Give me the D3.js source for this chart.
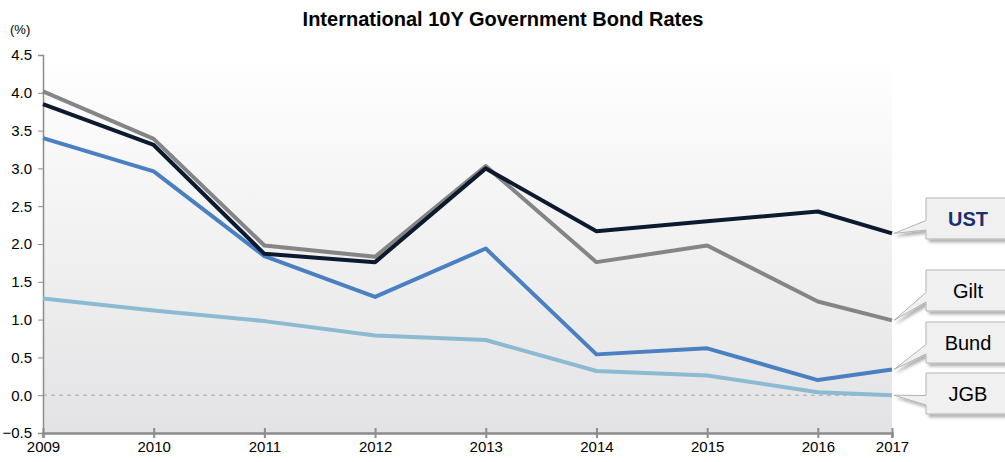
<!DOCTYPE html>
<html>
<head>
<meta charset="utf-8">
<script src="https://cdn.jsdelivr.net/npm/d3@7"></script>
<style>
  body { margin: 0; background: #fff; font-family: "Liberation Sans", Arial, sans-serif; }
  .tick text { font-size: 15px; fill: #000; }
</style>
</head>
<body>
<div id="chart"></div>
<script>
// x positions (last point is mid-2017) and their labels
const years = [2009, 2010, 2011, 2012, 2013, 2014, 2015, 2016, 2016.67];
const yearLabels = ["2009", "2010", "2011", "2012", "2013", "2014", "2015", "2016", "2017"];
const yTicks = [-0.5, 0, 0.5, 1, 1.5, 2, 2.5, 3, 3.5, 4, 4.5];

const ust  = [3.85, 3.31, 1.87, 1.76, 3.00, 2.17, 2.30, 2.43, 2.14];
const gilt = [4.02, 3.39, 1.98, 1.83, 3.03, 1.76, 1.98, 1.24, 0.99];
const bund = [3.40, 2.96, 1.84, 1.30, 1.94, 0.54, 0.62, 0.20, 0.34];
const jgb  = [1.28, 1.12, 0.98, 0.79, 0.73, 0.32, 0.26, 0.04, 0.00];

const seriesNames = ["JGB", "Bund", "Gilt", "UST"];
const seriesData = [jgb, bund, gilt, ust];
const colors = ["#8cbad3", "#4a80c2", "#858585", "#0b1a2e"];

const W = 1005, H = 462;
const margin = {top: 55, right: 113, bottom: 29, left: 43};
const width = W - margin.left - margin.right,
      height = H - margin.top - margin.bottom;

const svg = d3.select("#chart").append("svg")
    .attr("width", W)
    .attr("height", H);

const defs = svg.append("defs");
const grad = defs.append("linearGradient")
    .attr("id", "bg").attr("x1", 0).attr("y1", 0).attr("x2", 0).attr("y2", 1);
grad.append("stop").attr("offset", "0%").attr("stop-color", "#ffffff");
grad.append("stop").attr("offset", "100%").attr("stop-color", "#e3e3e5");

const shadow = defs.append("filter").attr("id", "shadow")
    .attr("x", "-20%").attr("y", "-20%").attr("width", "150%").attr("height", "160%");
shadow.append("feDropShadow")
    .attr("dx", 3).attr("dy", 3).attr("stdDeviation", 1.5)
    .attr("flood-color", "#000").attr("flood-opacity", 0.3);

// title
svg.append("text")
    .attr("x", 503).attr("y", 26)
    .attr("text-anchor", "middle")
    .style("font-size", "20px").style("font-weight", "bold")
    .text("International 10Y Government Bond Rates");

svg.append("text")
    .attr("x", 10).attr("y", 34)
    .style("font-size", "13px")
    .text("(%)");

const g = svg.append("g")
    .attr("transform", "translate(" + margin.left + "," + margin.top + ")");

const x = d3.scaleLinear().domain([2009, 2016.67]).range([0, width]);
const y = d3.scaleLinear().domain([-0.5, 4.5]).range([height, 0]);

g.append("rect")
    .attr("width", width).attr("height", height)
    .attr("fill", "url(#bg)");

// zero line
g.append("line")
    .attr("x1", 0).attr("x2", width)
    .attr("y1", y(0)).attr("y2", y(0))
    .attr("stroke", "#a6a6a6")
    .attr("stroke-dasharray", "4,4");

// y axis
const yAxis = g.append("g")
    .call(d3.axisLeft(y).tickValues(yTicks).tickFormat(d3.format(".1f")).tickSize(5).tickPadding(6));
yAxis.select(".domain").attr("stroke", "#8c8c8c").attr("stroke-width", 1.5);
yAxis.selectAll(".tick line").attr("stroke", "#8c8c8c");

// x axis
const xAxis = g.append("g")
    .attr("transform", "translate(0," + height + ")")
    .call(d3.axisBottom(x).tickValues(years).tickFormat((d, i) => yearLabels[i]).tickSize(5).tickPadding(3));
xAxis.select(".domain").attr("stroke", "#8c8c8c").attr("stroke-width", 2.5);
xAxis.selectAll(".tick line").attr("y1", -5).attr("stroke", "#8c8c8c").attr("stroke-width", 2);

// lines
const line = d3.line()
    .x((d, i) => x(years[i]))
    .y(d => y(d));

seriesData.forEach((s, k) => {
  g.append("path")
      .datum(s)
      .attr("fill", "none")
      .attr("stroke", colors[k])
      .attr("stroke-width", 4)
      .attr("stroke-linejoin", "round")
      .attr("d", line);
});

// callout labels
const labelBoxes = [
  {name: "UST", top: 198, bold: true, color: "#1a2f6b"},
  {name: "Gilt", top: 270, bold: false, color: "#000"},
  {name: "Bund", top: 322, bold: false, color: "#000"},
  {name: "JGB", top: 373, bold: false, color: "#000"}
];
const boxX = 926, boxW = 86, boxH = 41;

labelBoxes.forEach(b => {
  const k = seriesNames.indexOf(b.name);
  const s = seriesData[k];
  const px = margin.left + x(years[years.length - 1]);
  const py = margin.top + y(s[s.length - 1]);
  // wedge pointer attach points on the box left edge
  const a1 = b.top + boxH * 0.55, a2 = b.top + boxH * 0.78;
  const path = d3.path();
  path.moveTo(boxX, b.top);
  path.lineTo(boxX + boxW, b.top);
  path.lineTo(boxX + boxW, b.top + boxH);
  path.lineTo(boxX, b.top + boxH);
  path.lineTo(boxX, a2);
  path.lineTo(px + 2, py);
  path.lineTo(boxX, a1);
  path.closePath();
  svg.append("path")
      .attr("d", path.toString())
      .attr("fill", "#f0f0f0")
      .attr("stroke", "#b3b3b3")
      .attr("stroke-width", 1)
      .attr("filter", "url(#shadow)");
  svg.append("text")
      .attr("x", boxX + 42).attr("y", b.top + boxH / 2 + 7)
      .attr("text-anchor", "middle")
      .style("font-size", "20px")
      .style("font-weight", b.bold ? "bold" : "normal")
      .attr("fill", b.color)
      .text(b.name);
});
</script>
</body>
</html>
